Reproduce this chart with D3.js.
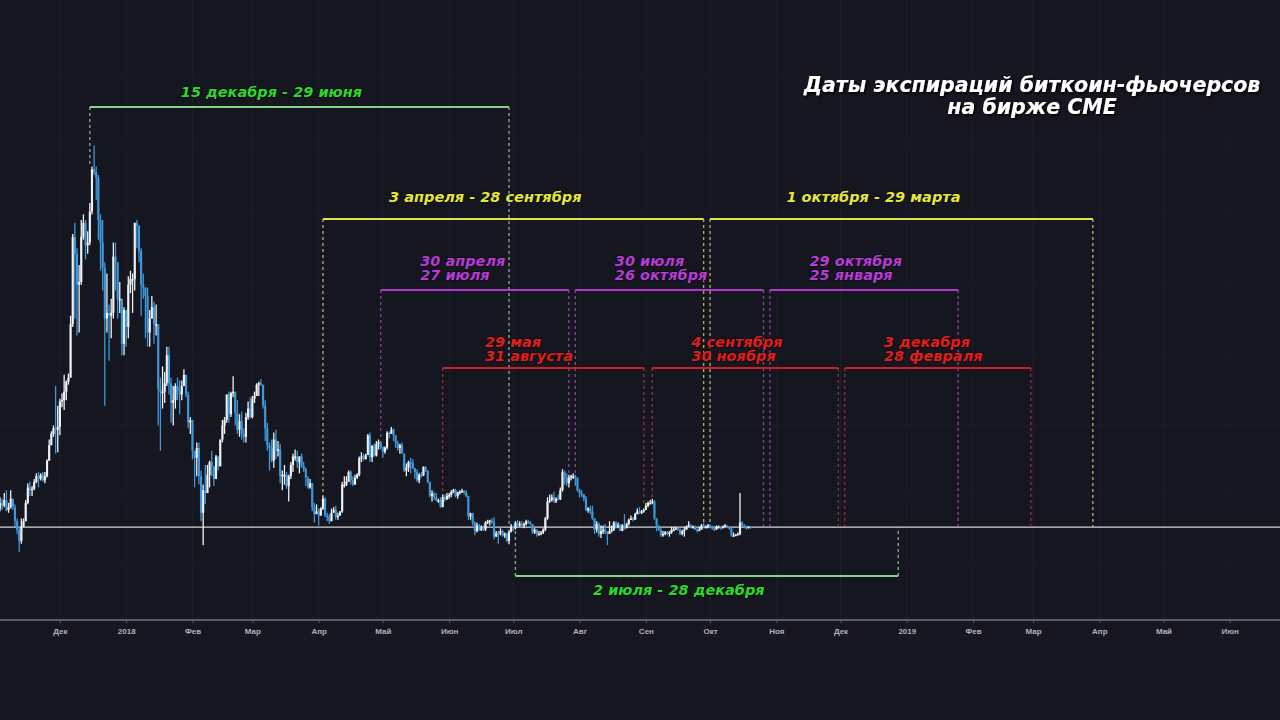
<!DOCTYPE html>
<html><head><meta charset="utf-8">
<script src="https://cdn.jsdelivr.net/npm/d3@7"></script>
<style>
html,body{margin:0;padding:0;background:#15161f;}
svg{display:block;}
</style></head><body>
<svg id="chart" width="1280" height="720"></svg>
<script>
// ---------- DATA ----------
const startDay = "2017-11-02";
const firstOpen = 6950;
const closes = [
// Nov 2-30
7050,7250,7150,7350,7000,7100,7400,7100,6600,6300,5900,6400,6600,7250,7800,7700,7750,8000,8200,8100,8250,8050,8200,8750,9300,9700,9900,9850,9950,
// Dec
10850,10900,11200,11550,11700,13600,16700,16100,15000,15100,16700,17200,16400,16500,17600,19100,19000,18800,17300,16500,15600,13800,14000,13900,14000,16000,15800,14500,14500,12900,14100,
// Jan
13500,15000,15200,15200,17200,17100,16200,15000,14900,14600,13300,13800,14200,13600,13600,11300,11200,11200,11500,12500,11500,10800,10900,11400,11200,11100,11400,11800,11100,10100,10200,
// Feb
9100,8850,9200,8200,6900,7700,7600,8250,8700,8550,8100,8900,8550,9500,10000,10200,11100,10400,11150,11200,10450,9850,10150,9700,9600,10300,10600,10300,
// Mar
10950,11050,11450,11500,11450,10700,9900,9300,9200,8750,9500,9100,9150,8200,8250,8250,7850,8200,8600,8900,8900,8700,8900,8550,8450,8150,7800,7950,7100,6850,6950,
// Apr
6800,7050,7400,6800,6750,6600,6900,7000,6750,6800,6950,7900,7900,8000,8350,8050,7900,8150,8250,8850,8900,8800,8950,9650,8870,9280,8930,9350,9400,9240,
// May
9070,9220,9740,9700,9850,9650,9370,9200,9300,9000,8400,8500,8700,8680,8480,8350,8050,8250,8230,8530,8400,7990,7500,7580,7460,7340,7350,7100,7460,7380,7500,
// Jun
7530,7640,7720,7500,7630,7650,7680,7620,7500,6770,6880,6550,6250,6450,6300,6350,6300,6550,6600,6620,6580,6050,6170,6150,6250,6090,6150,5900,6220,6400,
// Jul
6350,6550,6450,6500,6450,6500,6600,6550,6500,6200,6300,6150,6150,6200,6300,6700,7300,7350,7450,7300,7400,7380,7700,8350,8150,7950,8150,8200,8200,8150,7700,
// Aug
7600,7550,7400,7000,7050,6950,6700,6300,6500,6150,6250,6300,6200,6150,6250,6300,6550,6400,6450,6250,6450,6350,6500,6650,6700,6650,6850,6950,6900,6950,7000,
// Sep
7150,7250,7250,7300,6700,6450,6300,6100,6150,6200,6150,6200,6300,6300,6350,6300,6150,6250,6300,6400,6450,6400,6400,6300,6250,6300,6450,6400,6400,6450,
// Oct 1-20
6400,6350,6300,6400,6400,6350,6400,6450,6400,6350,6100,6100,6120,6150,6550,6450,6400,6350,6400,6390
];
const highs = [
7250,7450,7400,7600,7700,7250,7700,7400,7200,6700,6400,6700,6700,7350,7950,8000,7850,8100,8300,8350,8300,8350,8350,8800,9500,9800,10000,11400,10700,
10950,11150,11800,11600,11850,13900,16800,17200,16300,15700,17300,17500,17300,16900,17900,19200,19950,19200,18900,17500,17300,15800,15400,14300,14500,16500,16500,15800,15100,14500,14200,
14100,15300,15500,15400,17200,17300,17100,16300,15400,14900,14900,14100,14600,14400,14300,13600,11700,12100,11900,12800,12800,11700,11400,11500,11700,11600,11600,12000,11800,11200,10300,
10200,9100,9400,9400,8400,7900,8600,8600,8750,9100,8550,8950,8900,9500,10200,10300,11100,11200,11200,11750,11200,10900,10400,10500,9900,10450,10850,11000,
11050,11200,11500,11550,11650,11450,10900,10100,9400,9500,9750,9850,9450,9350,8400,8600,8350,8250,8700,9000,9150,9100,8900,9000,8700,8500,8200,8100,7950,7250,7200,
7050,7100,7500,7450,6900,6850,7050,7100,7150,6900,6950,8000,8200,8200,8400,8400,8200,8250,8300,8900,9050,9000,9000,9700,9750,9300,9350,9450,9500,9450,
9250,9250,9800,9780,9950,9900,9650,9450,9350,9400,9000,8650,8750,8850,8800,8500,8450,8300,8350,8550,8550,8400,8000,7700,7650,7600,7400,7450,7550,7550,7600,
7600,7700,7750,7750,7650,7700,7750,7700,7700,7500,6900,6900,6600,6550,6500,6450,6450,6600,6650,6650,6700,6750,6250,6250,6350,6300,6200,6200,6300,6500,
6450,6600,6650,6600,6600,6550,6650,6650,6600,6500,6350,6300,6250,6250,6350,6750,7450,7550,7550,7650,7450,7550,7800,8450,8400,8300,8250,8250,8300,8250,8150,
7750,7700,7550,7500,7100,7150,7150,6700,6600,6550,6450,6450,6500,6250,6600,6450,6600,6600,6550,6500,6500,6850,6550,6700,6800,6750,6900,7050,7100,7000,7050,
7250,7300,7350,7400,7350,6700,6450,6350,6250,6250,6250,6250,6400,6400,6400,6350,6350,6300,6400,6450,6600,6500,6450,6450,6350,6400,6500,6550,6450,6500,
6500,6450,6400,6450,6450,6400,6450,6500,6450,6400,6350,6200,6150,6200,7600,6600,6500,6450,6420,6420
];
const lows = [
6900,6950,7000,7100,6950,6900,7050,7000,6400,6150,5500,5800,6400,6600,7200,7500,7500,7700,7950,7800,8050,8000,7950,8150,8750,9300,9600,9000,9050,
9650,10650,10550,10900,11450,11700,13500,13800,13200,13300,15000,16600,15900,16100,16400,17500,18900,18000,16600,15500,14800,10700,13300,12300,13100,13800,14800,13800,14000,12500,12500,
12800,13100,14700,14000,14800,16300,15800,13900,14500,13100,12800,12800,13800,12900,13200,10000,9100,10600,10800,11400,11100,10100,10000,10600,10900,10400,10900,11400,11000,9900,9700,
8800,7800,8200,7900,6600,5750,7200,7600,7800,8200,7850,8100,8400,8550,9400,9700,10100,10100,10300,11000,10000,9700,9600,9500,9400,9400,10200,10250,
10250,10800,11050,11050,11400,10600,9450,9100,8400,8700,8500,8800,8900,7950,7700,7900,7750,7300,8100,8350,8750,8500,8300,8500,8350,7850,7750,7750,6950,6550,6850,
6450,6800,7000,6750,6600,6500,6600,6900,6650,6650,6800,6900,7800,7850,8000,7900,7850,7900,8100,8200,8700,8750,8800,8950,8700,8700,8900,8900,9150,9150,
8850,9000,9150,9550,9700,9450,9200,9100,9000,9000,8350,8200,8350,8300,8450,8100,8000,7950,8150,8200,8350,7950,7450,7300,7350,7300,7250,7080,7100,7300,7350,
7400,7450,7600,7450,7400,7550,7600,7550,7450,6650,6650,6450,6100,6200,6250,6250,6250,6250,6500,6450,6500,5950,6050,5800,6100,6050,6000,5850,5780,6200,
6250,6300,6400,6400,6400,6350,6450,6500,6450,6150,6150,6050,6100,6100,6150,6250,6650,7250,7300,7250,7250,7350,7350,7650,7900,7850,7800,8050,8100,7850,7650,
7450,7450,7300,6950,6900,6850,6650,6150,6200,6050,6000,6150,6150,5750,6150,6200,6250,6350,6350,6250,6250,6300,6350,6450,6650,6600,6650,6850,6850,6850,6900,
7000,7100,7200,7200,6650,6250,6250,6050,6050,6100,6100,6050,6150,6250,6300,6250,6100,6100,6050,6300,6400,6350,6350,6300,6200,6250,6300,6350,6350,6350,
6350,6300,6250,6300,6350,6300,6350,6400,6350,6300,6050,6050,6080,6100,6100,6400,6350,6300,6350,6350
];
const lastPrice = 6390;

const tickDates = ["2017-12-01","2018-01-01","2018-02-01","2018-03-01","2018-04-01","2018-05-01","2018-06-01","2018-07-01","2018-08-01","2018-09-01","2018-10-01","2018-11-01","2018-12-01","2019-01-01","2019-02-01","2019-03-01","2019-04-01","2019-05-01","2019-06-01"];
const tickLabels = ["Дек","2018","Фев","Мар","Апр","Май","Июн","Июл","Авг","Сен","Окт","Ноя","Дек","2019","Фев","Мар","Апр","Май","Июн"];

const periodStart = ["2017-12-15","2018-07-02","2018-04-03","2018-10-01","2018-04-30","2018-07-30","2018-10-29","2018-05-29","2018-09-04","2018-12-03"];
const periodEnd   = ["2018-06-29","2018-12-28","2018-09-28","2019-03-29","2018-07-27","2018-10-26","2019-01-25","2018-08-31","2018-11-30","2019-02-28"];
const periodLabel = [
  ["15 декабря - 29 июня"], ["2 июля - 28 декабря"],
  ["3 апреля - 28 сентября"], ["1 октября - 29 марта"],
  ["30 апреля","27 июля"], ["30 июля","26 октября"], ["29 октября","25 января"],
  ["29 мая","31 августа"], ["4 сентября","30 ноября"], ["3 декабря","28 февраля"]
];
const periodGroup = ["semi","semi","half","half","q1","q1","q1","q2","q2","q2"];

const titleLines = ["Даты экспираций биткоин-фьючерсов","на бирже CME"];

// ---------- STYLE / LAYOUT ----------
const W = 1280, H = 720;
const BG = "#15161f";
const groupStyle = {
  semi: {text:"#2cd82c", line:"#86d486", dash:"#a9d6a9"},
  half: {text:"#e6e63c", line:"#e2e24a", dash:"#d8d87a"},
  q1:   {text:"#b63cd6", line:"#b03ccc", dash:"#9e54b4"},
  q2:   {text:"#e01e1a", line:"#cf2020", dash:"#b03a3a"}
};
const rowY = {semiTop:107, semiBottom:576, half:219, q1:290, q2:368};

const parse = d3.utcParse("%Y-%m-%d");
const x = d3.scaleUtc()
  .domain([parse("2017-11-03"), new Date(Date.UTC(2019,5,24,12))])
  .range([0, W]);
const y = d3.scaleLinear().domain([0, 20000]).range([707, 144]);

const svg = d3.select("#chart");
svg.append("rect").attr("width",W).attr("height",H).attr("fill",BG);

const defs = svg.append("defs");
const f = defs.append("filter").attr("id","shadow").attr("x","-10%").attr("y","-30%").attr("width","120%").attr("height","160%");
f.append("feDropShadow").attr("dx",1.5).attr("dy",1.5).attr("stdDeviation",1.2).attr("flood-color","#000").attr("flood-opacity",0.95);

// faint grid
const grid = svg.append("g");
grid.selectAll("line.v").data(tickDates).join("line")
  .attr("x1",d=>x(parse(d))).attr("x2",d=>x(parse(d)))
  .attr("y1",0).attr("y2",618)
  .attr("stroke","#1c1e2a").attr("stroke-width",1);
grid.selectAll("line.h").data(d3.range(2500, 22501, 2500)).join("line")
  .attr("x1",0).attr("x2",W)
  .attr("y1",d=>y(d)).attr("y2",d=>y(d))
  .attr("stroke","#1a1c27").attr("stroke-width",1);

// candles
const day0 = parse(startDay);
const candles = closes.map((c,i)=>{
  const o = i===0 ? firstOpen : closes[i-1];
  return {date: d3.utcDay.offset(day0, i), o, c,
          h: Math.max(highs[i], o, c), l: Math.min(lows[i], o, c)};
});
const step = x(d3.utcDay.offset(day0,1)) - x(day0);
const upCol = "#eef1f5", downCol = "#3f98da";

// last price line
svg.append("line").attr("x1",0).attr("x2",W)
  .attr("y1",y(lastPrice)).attr("y2",y(lastPrice))
  .attr("stroke","#d4d6da").attr("stroke-width",1.2);

// brackets
const brackets = periodStart.map((s,i)=>({
  s: parse(s), e: parse(periodEnd[i]), label: periodLabel[i], group: periodGroup[i]
}));
let semiCount = 0;
brackets.forEach(b=>{
  if (b.group==="semi") { b.below = semiCount % 2 === 1; semiCount++; b.ly = b.below ? rowY.semiBottom : rowY.semiTop; }
  else { b.below = false; b.ly = rowY[b.group]; }
});

function priceEdge(date, below){
  const near = candles.filter(k => Math.abs(k.date - date) <= 86400000*1.01);
  if (!near.length) return y(lastPrice);
  return below ? y(d3.min(near, k=>k.l)) : y(d3.max(near, k=>k.h));
}

const bg = svg.append("g");
brackets.forEach(b=>{
  const st = groupStyle[b.group];
  [b.s, b.e].forEach(d=>{
    const xe = x(d);
    const yEnd = priceEdge(d, b.below);
    bg.append("line").attr("x1",xe).attr("x2",xe)
      .attr("y1",b.ly).attr("y2",yEnd)
      .attr("stroke",st.dash).attr("stroke-width",1.4)
      .attr("stroke-dasharray","3,3").attr("opacity",0.75);
  });
});

// candles drawn over dashes
const cg = svg.append("g");
cg.selectAll("line.wick").data(candles).join("line")
  .attr("x1",d=>x(d.date)).attr("x2",d=>x(d.date))
  .attr("y1",d=>y(d.h)).attr("y2",d=>y(d.l))
  .attr("stroke",d=>d.c>=d.o?upCol:downCol).attr("stroke-width",1.3);
cg.selectAll("rect.body").data(candles).join("rect")
  .attr("x",d=>x(d.date)-step*0.5)
  .attr("width",step*1.0)
  .attr("y",d=>y(Math.max(d.o,d.c)))
  .attr("height",d=>Math.max(1.5, Math.abs(y(d.o)-y(d.c))))
  .attr("fill",d=>d.c>=d.o?upCol:downCol);

// bracket horizontal lines and labels
const lg = svg.append("g").attr("font-family","DejaVu Sans, Verdana, sans-serif")
  .attr("font-weight","bold").attr("font-style","italic").attr("font-size",14.5);
brackets.forEach(b=>{
  const st = groupStyle[b.group];
  const x1 = x(b.s), x2 = x(b.e);
  lg.append("line").attr("x1",x1).attr("x2",x2).attr("y1",b.ly).attr("y2",b.ly)
    .attr("stroke",st.line).attr("stroke-width",2);
  if (b.label.length === 1) {
    const ty = b.below ? b.ly + 19 : (b.group==="half" ? b.ly - 17 : b.ly - 10);
    lg.append("text").attr("x",(x1+x2)/2 - 28).attr("y",ty)
      .attr("text-anchor","middle").attr("fill",st.text)
      .attr("stroke","#000").attr("stroke-width",1.5).attr("stroke-opacity",0.5)
      .attr("paint-order","stroke")
      .text(b.label[0]);
  } else {
    const base = b.group==="q1" ? [b.ly-24, b.ly-10] : [b.ly-21, b.ly-7];
    b.label.forEach((t,j)=>{
      lg.append("text").attr("x",x1 + (x2-x1)*0.21).attr("y",base[j])
        .attr("text-anchor","start").attr("fill",st.text)
        .attr("stroke","#000").attr("stroke-width",1.5).attr("stroke-opacity",0.5)
        .attr("paint-order","stroke")
        .text(t);
    });
  }
});

// title
const tg = svg.append("g").attr("font-family","DejaVu Sans, Verdana, sans-serif")
  .attr("font-weight","bold").attr("font-style","italic").attr("font-size",20.5)
  .attr("fill","#ffffff").attr("text-anchor","middle").attr("filter","url(#shadow)");
titleLines.forEach((t,i)=>{
  tg.append("text").attr("x",1032).attr("y",92 + i*21.5).text(t);
});

// x axis
const axisG = svg.append("g").attr("transform","translate(0,620)");
const axis = d3.axisBottom(x)
  .tickValues(tickDates.map(parse))
  .tickFormat((d,i)=>tickLabels[i])
  .tickSize(3).tickSizeOuter(0);
axisG.call(axis);
axisG.select(".domain").attr("stroke","#5a5d69").attr("stroke-width",2).attr("d","M0,0H"+W);
axisG.selectAll(".tick line").attr("stroke","#5a5d69");
axisG.selectAll(".tick text").attr("fill","#aeb2bd").attr("font-size",8)
  .attr("font-weight","bold").attr("font-family","Liberation Sans, Arial, sans-serif").attr("dy","0.95em");
</script>
</body></html>
